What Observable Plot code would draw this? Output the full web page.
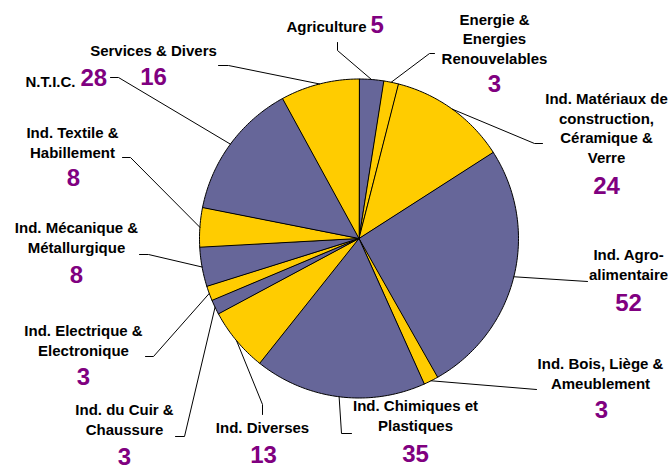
<!DOCTYPE html>
<html><head><meta charset="utf-8">
<script src="https://cdn.jsdelivr.net/npm/d3@7"></script>
<script src="https://cdn.jsdelivr.net/npm/@observablehq/plot@0.6"></script>
<style>
html,body{margin:0;padding:0;background:#fff;}
#chart svg{display:block}
</style></head><body><div id="chart"></div>
<script>
// ---- data ----
const sectors = ["Agriculture","Energie & Energies Renouvelables","Ind. Matériaux de construction, Céramique & Verre","Ind. Agro-alimentaire","Ind. Bois, Liège & Ameublement","Ind. Chimiques et Plastiques","Ind. Diverses","Ind. du Cuir & Chaussure","Ind. Electrique & Electronique","Ind. Mécanique & Métallurgique","Ind. Textile & Habillement","N.T.I.C.","Services & Divers"];
const labelText = ["Agriculture","Energie &\nEnergies\nRenouvelables","Ind. Matériaux de\nconstruction,\nCéramique &\nVerre","Ind. Agro-\nalimentaire","Ind. Bois, Liège &\nAmeublement","Ind. Chimiques et\nPlastiques","Ind. Diverses","Ind. du Cuir &\nChaussure","Ind. Electrique &\nElectronique","Ind. Mécanique &\nMétallurgique","Ind. Textile &\nHabillement","N.T.I.C.","Services & Divers"];
const counts = [5,3,24,52,3,35,13,3,3,8,8,28,16];
const groups = ["A","B","B","A","B","A","B","A","B","A","B","A","B"];

// ---- layout (label placement, pixels) ----
const layout = [
 {lx:366, ly:31, la:"end", nx:370, ny:32, na:"start", path:[[337,50],[337,42]]},
 {lx:494, ly:63, la:"middle", nx:494, ny:91, na:"middle", path:[[429,53],[434,53]]},
 {lx:606, ly:162, la:"middle", nx:606, ny:193, na:"middle", path:[[534,143],[542,143]]},
 {lx:628, ly:279, la:"middle", nx:628, ny:310, na:"middle", path:[[587,281]]},
 {lx:600, ly:388, la:"middle", nx:601, ny:417, na:"middle", path:[[536,389]]},
 {lx:415, ly:430, la:"middle", nx:415, ny:461, na:"middle", path:[[341,433],[351,433]]},
 {lx:262, ly:432, la:"middle", nx:263, ny:462, na:"middle", path:[[262,404],[262,414]]},
 {lx:124, ly:434, la:"middle", nx:124, ny:464, na:"middle", path:[[184,436],[175,436]]},
 {lx:83, ly:355, la:"middle", nx:83, ny:384, na:"middle", path:[[153,356],[145,356]]},
 {lx:76, ly:252, la:"middle", nx:76, ny:282, na:"middle", path:[[148,254],[139,254]]},
 {lx:72, ly:157, la:"middle", nx:73, ny:185, na:"middle", path:[[130,157],[122,157]]},
 {lx:75, ly:86, la:"end", nx:80, ny:85, na:"start", path:[[118,77],[110,77]]},
 {lx:153, ly:55, la:"middle", nx:153, ny:84, na:"middle", path:[[228,65],[218,65]]}
];
const W = 668, H = 468, cx = 358.5, cy = 238, R = 159.5;

// ---- geometry from values ----
const arcs = d3.pie().sort(null).value(d => d)(counts);
const polyPts = [];
const leaderPts = [];
arcs.forEach((p, i) => {
  polyPts.push({key: i, group: groups[i], x: cx, y: cy});
  const n = Math.max(2, Math.ceil((p.endAngle - p.startAngle) / (Math.PI / 180)));
  for (let k = 0; k <= n; k++) {
    const a = p.startAngle + (p.endAngle - p.startAngle) * k / n;
    polyPts.push({key: i, group: groups[i], x: cx + R * Math.sin(a), y: cy - R * Math.cos(a)});
  }
  const m = (p.startAngle + p.endAngle) / 2;
  leaderPts.push({key: i, x: cx + R * Math.sin(m), y: cy - R * Math.cos(m)});
  layout[i].path.forEach(([x, y]) => leaderPts.push({key: i, x, y}));
});

const labels = sectors.map((s, i) => ({sector: s, text: labelText[i], x: layout[i].lx, y: layout[i].ly, a: layout[i].la}));
const nums = sectors.map((s, i) => ({sector: s, text: String(counts[i]), x: layout[i].nx, y: layout[i].ny, a: layout[i].na}));

const font = "Liberation Sans, Arial, Helvetica, sans-serif";
const textMarks = [];
for (const anc of ["start", "middle", "end"]) {
  textMarks.push(Plot.text(labels.filter(d => d.a === anc), {x: "x", y: "y", text: "text", textAnchor: anc, lineAnchor: "bottom", lineHeight: 1.3, fontSize: 15, fontWeight: "bold", fontFamily: font, fill: "#000"}));
  textMarks.push(Plot.text(nums.filter(d => d.a === anc), {x: "x", y: "y", text: "text", textAnchor: anc, lineAnchor: "bottom", fontSize: 24, fontWeight: "bold", fontFamily: font, fill: "#800080"}));
}

const chart = Plot.plot({
  width: W, height: H,
  margin: 0,
  style: {background: "#fff", fontFamily: font},
  x: {domain: [0, W], range: [0, W], axis: null},
  y: {domain: [0, H], range: [0, H], axis: null},
  color: {domain: ["A", "B"], range: ["#666699", "#FFCC00"]},
  marks: [
    Plot.line(polyPts, {x: "x", y: "y", z: "key", fill: "group", stroke: "#000", strokeWidth: 1, strokeLinejoin: "miter", curve: "linear-closed"}),
    Plot.line(leaderPts, {x: "x", y: "y", z: "key", stroke: "#000", strokeWidth: 1}),
    ...textMarks
  ]
});
document.getElementById("chart").appendChild(chart);
</script></body></html>
